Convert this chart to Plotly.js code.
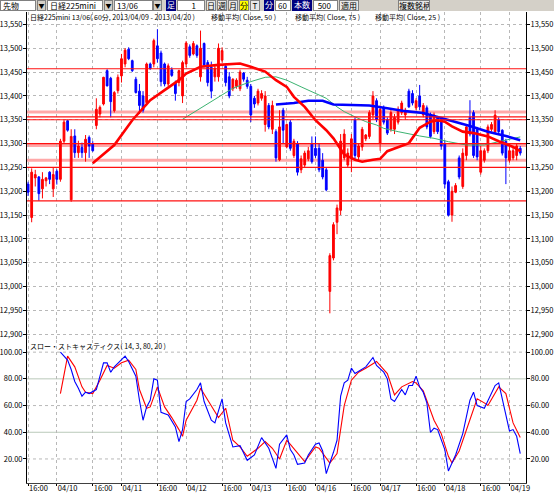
<!DOCTYPE html>
<html><head><meta charset="utf-8">
<script src="https://cdn.plot.ly/plotly-3.0.1.min.js"></script>
<style>
body{margin:0;padding:0;background:#fff;}
#wrap{position:relative;width:554px;height:497px;overflow:hidden;}
#plot{position:absolute;left:0;top:0;width:554px;height:497px;}
#tb{position:absolute;left:0;top:0;width:554px;height:11px;background:#d4d0c8;z-index:5;font-family:'Noto Sans CJK JP',sans-serif;font-size:8px;line-height:10px;}
#tb div{position:absolute;top:0;height:11px;box-sizing:border-box;white-space:nowrap;overflow:hidden;}
.w{background:#fff;border:1px solid #808080;padding-left:2px;}
.a{background:#d4d0c8;border:1px solid #808080;text-align:center;font-size:6px;}
.n{background:#000080;color:#fff;text-align:center;}
.b{background:#e8e8e8;border:1px solid #808080;text-align:center;}
</style></head>
<body><div id="wrap">
<div id="plot"></div>
<div id="tb">
<div class="w" style="left:0;width:36px">先物</div><div class="a" style="left:37px;width:9px">▼</div>
<div class="w" style="left:47px;width:56px">日経225mini</div><div class="a" style="left:104px;width:9px">▼</div>
<div class="w" style="left:114px;width:39px">13/06</div><div class="a" style="left:153px;width:9px">▼</div>
<div class="n" style="left:166px;width:10px">足</div>
<div class="w" style="left:177px;width:28px;text-align:right;padding-right:8px">1</div>
<div class="b" style="left:206px;width:10px">日</div><div class="b" style="left:217px;width:10px">週</div>
<div class="b" style="left:228px;width:10px">月</div><div class="b" style="left:239px;width:10px;background:#ffff00">分</div>
<div class="b" style="left:250px;width:10px">T</div>
<div class="n" style="left:264px;width:10px">分</div>
<div class="w" style="left:275px;width:16px;text-align:right;padding-right:4px">60</div>
<div class="n" style="left:292px;width:20px">本数</div>
<div class="w" style="left:313px;width:25px;text-align:right;padding-right:6px">500</div>
<div class="b" style="left:339px;width:20px">適用</div>
<div class="b" style="left:398px;width:32px">複数銘柄</div>
</div>
</div>
<script>
// ---- 60-minute candles (bar index 0 = 04/09 16:00) ----
const openP  = [13215,13145,13228,13230,13205,13222,13240,13205,13242,13225,13305,13348,13182,13316,13281,13292,13281,13313,13300,13338,
13362,13383,13453,13437,13369,13411,13442,13467,13498,13474,13435,13410,13400,13386,13467,13467,13505,13490,13467,13425,
13455,13428,13428,13400,13467,13503,13488,13505,13440,13510,13470,13460,13440,13440,13475,13462,13440,13415,13420,13415,
13448,13433,13420,13395,13385,13395,13340,13380,13330,13325,13266,13370,13293,13345,13275,13300,13245,13255,13268,13300,
13290,13290,13265,13245,12990,13060,13135,13160,13270,13255,13270,13350,13272,13293,13310,13315,13360,13390,13300,13375,
13350,13330,13330,13345,13365,13360,13410,13405,13375,13400,13360,13375,13360,13325,13355,13350,13300,13220,13150,13198,
13270,13210,13275,13355,13365,13330,13240,13265,13285,13330,13325,13350,13328,13305,13265,13270,13275,13290];
const highP  = [13220,13248,13245,13232,13240,13230,13242,13250,13246,13310,13350,13350,13330,13330,13306,13302,13318,13317,13305,13395,
13380,13440,13456,13440,13410,13445,13488,13500,13502,13476,13440,13425,13410,13470,13470,13520,13540,13495,13470,13468,
13460,13432,13455,13474,13515,13508,13515,13508,13537,13512,13475,13472,13465,13510,13502,13468,13450,13437,13437,13455,
13450,13440,13425,13400,13415,13412,13410,13385,13390,13330,13370,13375,13342,13350,13310,13305,13275,13285,13293,13315,
13315,13300,13280,13250,13070,13135,13172,13320,13330,13290,13320,13355,13300,13335,13320,13370,13410,13395,13380,13380,
13355,13370,13362,13378,13390,13375,13415,13412,13395,13423,13385,13380,13365,13365,13358,13356,13307,13224,13210,13217,
13275,13290,13340,13391,13370,13335,13295,13290,13340,13345,13370,13355,13330,13310,13300,13295,13300,13295];
const lowP   = [13190,13135,13210,13180,13185,13210,13215,13188,13214,13220,13300,13325,13178,13270,13270,13270,13262,13270,13283,13330,
13355,13380,13420,13355,13365,13405,13428,13460,13475,13450,13405,13362,13365,13380,13455,13460,13470,13420,13420,13420,
13440,13390,13420,13385,13460,13480,13485,13480,13430,13460,13420,13395,13430,13430,13470,13420,13395,13410,13415,13410,
13430,13415,13345,13375,13380,13390,13325,13330,13320,13262,13263,13300,13290,13285,13270,13233,13238,13250,13263,13258,
13270,13240,13225,13200,12944,13055,13110,13150,13265,13250,13240,13265,13265,13285,13305,13310,13350,13345,13285,13340,
13318,13325,13320,13340,13360,13350,13375,13380,13370,13370,13355,13330,13311,13320,13320,13287,13206,13147,13136,13196,
13225,13205,13265,13315,13270,13265,13235,13260,13280,13325,13320,13320,13275,13215,13260,13265,13265,13275];
const closeP = [13198,13240,13235,13195,13225,13228,13225,13235,13225,13305,13345,13328,13315,13281,13295,13281,13309,13295,13285,13372,
13376,13439,13421,13388,13407,13439,13478,13496,13478,13453,13407,13380,13370,13467,13457,13516,13478,13430,13425,13463,
13443,13405,13453,13470,13511,13485,13510,13485,13500,13465,13428,13410,13458,13500,13495,13428,13400,13435,13433,13450,
13435,13420,13360,13383,13410,13405,13400,13335,13380,13270,13335,13328,13340,13290,13305,13240,13268,13280,13285,13262,
13275,13245,13230,13203,13065,13130,13165,13305,13320,13280,13310,13275,13295,13330,13318,13365,13400,13350,13372,13345,
13322,13365,13355,13372,13385,13370,13377,13385,13390,13377,13380,13335,13315,13360,13325,13295,13215,13150,13200,13212,
13230,13280,13335,13320,13275,13272,13285,13285,13335,13340,13360,13325,13280,13270,13285,13285,13295,13280];

// ---- moving averages (bar index, value) ----
const ma25Idx = [18,24,29,34,38,42,44,48,53,57,59,62,66,69,72,74,77,80,83,85,87,88,91,93,96,98,100,103,106,109,112,114,116,118,121,124,128,131,135,137];
const ma25Val = [13259,13297,13349,13391,13412,13433,13447,13461,13465,13467,13468,13461,13451,13433,13419,13398,13377,13349,13328,13311,13290,13277,13266,13262,13266,13268,13284,13293,13301,13333,13346,13349,13346,13336,13325,13322,13315,13305,13293,13284];
const ma50Idx = [43,48,53,57,62,66,69,72,76,80,83,86,88,91,94,97,99,103,106,109,113,117,122,127,131,135,137];
const ma50Val = [13351,13374,13397,13416,13430,13439,13440,13433,13419,13405,13395,13377,13367,13356,13346,13339,13332,13325,13320,13316,13311,13304,13297,13297,13304,13311,13314];
const ma75Idx = [69,74,78,82,85,90,95,100,105,110,114,118,123,128,133,137];
const ma75Val = [13382,13385,13390,13390,13382,13381,13380,13374,13368,13364,13356,13347,13337,13325,13316,13307];

// ---- horizontal price levels ----
const redLevels  = [13457,13356,13350,13300,13250,13180];
const pinkLevels = [13366,13296,13265];

// ---- slow stochastics ----
const kIdx = [9,11,12,13,14,15,16,17,19,21,22,23,24,27,28,30,31,32,33,34,35,36,37,39,41,42,43,44,45,47,48,49,51,52,54,55,57,59,61,63,65,67,69,70,72,73,74,75,77,78,80,81,82,83,85,86,87,88,89,90,91,93,94,96,97,99,100,101,102,104,105,106,107,108,109,110,111,112,113,114,116,117,119,121,123,124,125,127,128,130,131,132,133,134,135,136,137];
const kVal = [100,94,87,78,73,67,70,69,72,92,92,85,89,97,93,82,64,49,59,64,80,79,55,53,44,33,42,63,65,72,77,63,49,47,65,47,29,30,19,23,36,28,13,31,38,27,23,16,17,23,31,32,26,9,25,34,67,77,79,88,84,87,89,96,90,85,80,65,63,72,68,75,75,82,74,70,62,40,43,42,27,11,23,39,64,70,60,58,64,75,77,65,51,41,42,37,24];
const dIdx = [9,11,13,15,16,18,20,22,24,26,28,30,31,33,34,36,38,40,42,43,44,47,48,51,53,55,57,59,61,64,66,68,70,72,73,77,80,81,84,86,88,90,92,94,97,100,102,104,107,108,110,113,115,117,118,120,123,125,127,128,131,133,135,136,137];
const dVal = [69,97,89,74,70,69,79,90,88,92,94,87,72,58,59,74,59,51,42,37,49,64,73,60,51,58,34,29,22,28,33,28,20,34,31,18,29,28,17,24,60,79,85,88,93,84,68,74,78,77,71,49,39,22,17,26,49,65,62,60,74,69,47,41,36];
const stochLevels = [100,80,60,40,20];
const stochSolid  = [false,true,false,true,false];

// ---- x-axis ticks ----
const tickIdx  = [0,8,18,26,36,44,54,62,72,80,90,98,108,116,126,134];
const tickText = ['16:00','04/10','16:00','04/11','16:00','04/12','16:00','04/13','16:00','04/16','16:00','04/17','16:00','04/18','16:00','04/19'];

const xs = openP.map((_, i) => i);
const F = 'Noto Sans CJK JP, Noto Sans, sans-serif';

const traces = [
  {type:'candlestick', x:xs, open:openP, high:highP, low:lowP, close:closeP, xaxis:'x', yaxis:'y',
   increasing:{line:{color:'#ff0000',width:1}, fillcolor:'#ff0000'},
   decreasing:{line:{color:'#0000ff',width:1}, fillcolor:'#0000ff'},
   whiskerwidth:0, hoverinfo:'skip'},
  {type:'scatter', mode:'lines', x:ma50Idx, y:ma50Val, line:{color:'#3cb371',width:1}, xaxis:'x', yaxis:'y'},
  {type:'scatter', mode:'lines', x:ma75Idx, y:ma75Val, line:{color:'#0000ff',width:2.6}, xaxis:'x', yaxis:'y'},
  {type:'scatter', mode:'lines', x:ma25Idx, y:ma25Val, line:{color:'#ff0000',width:2.6}, xaxis:'x', yaxis:'y'},
  {type:'scatter', mode:'lines', x:dIdx, y:dVal, line:{color:'#ff0000',width:1.1}, xaxis:'x', yaxis:'y2'},
  {type:'scatter', mode:'lines', x:kIdx, y:kVal, line:{color:'#0000ff',width:1.1}, xaxis:'x', yaxis:'y2'},
  {type:'scatter', mode:'lines', x:[], y:[], xaxis:'x', yaxis:'y3'},
  {type:'scatter', mode:'lines', x:[], y:[], xaxis:'x', yaxis:'y4'}
];

const mainRange = [12888, 13576];
const stRange = [2.0, 109.1];
const mainDom = [0.3036, 1];
const stDom = [0, 0.3036];
const tickFont = {family:F, size:7.5, color:'#000'};

const yMainCommon = {range:mainRange, domain:mainDom, dtick:50, tick0:0, tickformat:',d',
  ticks:'outside', ticklen:3, tickcolor:'#000', showline:true, linecolor:'#000', linewidth:1,
  tickfont:tickFont, zeroline:false, ticklabelstandoff:-1};
const yStCommon = {range:stRange, domain:stDom, tickvals:stochLevels, tickformat:'.2f',
  ticks:'outside', ticklen:3, tickcolor:'#000', showline:true, linecolor:'#000', linewidth:1,
  tickfont:tickFont, zeroline:false, showgrid:false, ticklabelstandoff:-1};

const shapes = [];
stochLevels.forEach((v, k) => shapes.push({type:'line', xref:'paper', x0:0, x1:1, yref:'y2', y0:v, y1:v, layer:'below',
  line:{color: stochSolid[k] ? '#b9c9b9' : '#b8b8b8', width:1, dash: stochSolid[k] ? 'solid' : 'dot'}}));
pinkLevels.forEach(v => shapes.push({type:'line', xref:'paper', x0:0, x1:1, yref:'y', y0:v, y1:v, layer:'between',
  line:{color:'#ffa8a8', width:3}}));
redLevels.forEach(v => shapes.push({type:'line', xref:'paper', x0:0, x1:1, yref:'y', y0:v, y1:v, layer:'above',
  line:{color:'#ff1010', width:1.2}}));

const ann = (txt, xpx, ypx) => ({text:txt, xref:'paper', yref:'paper', x:(xpx-27)/499, y:1-(ypx-12)/471,
  xanchor:'left', yanchor:'middle', showarrow:false, font:{family:F, size:7, color:'#000'}});

const layout = {
  width:554, height:497, margin:{l:27, r:28, t:12, b:14},
  paper_bgcolor:'#fff', plot_bgcolor:'#fff', showlegend:false,
  xaxis:{range:[-0.3,138.6], anchor:'y2', tickvals:tickIdx, ticktext:tickText, ticklabelposition:'outside right',
    ticks:'outside', ticklen:2, tickcolor:'#000', showline:true, linecolor:'#404040', linewidth:1,
    showgrid:true, gridcolor:'#b8b8b8', griddash:'dot', gridwidth:1, tickfont:tickFont, ticklabelstandoff:-2,
    rangeslider:{visible:false}, zeroline:false},
  yaxis: Object.assign({}, yMainCommon, {side:'left', anchor:'x', showgrid:true, gridcolor:'#b8b8b8', griddash:'dot'}),
  yaxis3: Object.assign({}, yMainCommon, {side:'right', overlaying:'y', anchor:'x', showgrid:false}),
  yaxis2: Object.assign({}, yStCommon, {side:'left', anchor:'x'}),
  yaxis4: Object.assign({}, yStCommon, {side:'right', overlaying:'y2', anchor:'x'}),
  shapes: shapes,
  annotations:[
    ann('日経225mini 13/06( 60分, 2013/04/09 - 2013/04/20 )', 28, 17),
    ann('移動平均( Close, 50 )', 209, 17),
    ann('移動平均( Close, 75 )', 293, 17),
    ann('移動平均( Close, 25 )', 373, 17),
    ann('スロー・ストキャスティクス( 14, 3, 80, 20 )', 28, 346)
  ]
};

Plotly.newPlot('plot', traces, layout, {staticPlot:true, displayModeBar:false});
</script>
</body></html>
